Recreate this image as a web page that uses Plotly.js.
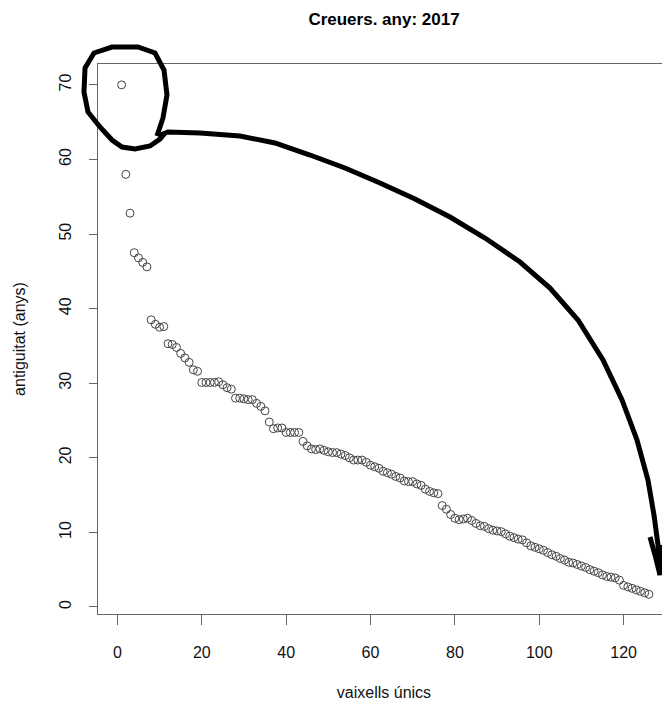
<!DOCTYPE html>
<html>
<head>
<meta charset="utf-8">
<script src="https://cdn.plot.ly/plotly-3.0.1.min.js"></script>
<style>
html,body{margin:0;padding:0;overflow:hidden;background:#fff;}
#chart{width:670px;height:704px;}
</style>
</head>
<body>
<div id="chart"></div>
<script>
// Data (index of ship vs age in years)
const ages = [
  70.0, 58.0, 52.8, 47.5, 46.8, 46.2, 45.6, 38.5, 37.9, 37.5,
  37.6, 35.3, 35.2, 34.8, 34.0, 33.4, 32.8, 31.8, 31.6, 30.1,
  30.1, 30.1, 30.1, 30.2, 29.8, 29.4, 29.2, 28.0, 28.0, 27.9,
  27.8, 27.8, 27.3, 26.9, 26.3, 24.8, 23.9, 24.0, 24.0, 23.4,
  23.4, 23.4, 23.4, 22.2, 21.6, 21.2, 21.1, 21.2, 21.0, 20.8,
  20.7, 20.7, 20.5, 20.3, 20.0, 19.7, 19.7, 19.7, 19.4, 19.0,
  18.8, 18.6, 18.2, 18.0, 17.8, 17.5, 17.3, 16.9, 16.8, 16.8,
  16.5, 16.3, 15.8, 15.5, 15.3, 15.2, 13.6, 13.1, 12.4, 11.9,
  11.7, 11.8, 11.9, 11.6, 11.2, 10.9, 10.8, 10.5, 10.3, 10.2,
  10.1, 9.8, 9.5, 9.3, 9.1, 9.0, 8.6, 8.2, 8.0, 7.8,
  7.6, 7.3, 7.0, 6.8, 6.5, 6.3, 6.0, 5.9, 5.7, 5.5,
  5.3, 5.0, 4.8, 4.6, 4.3, 4.1, 4.0, 3.9, 3.6, 2.9,
  2.7, 2.5, 2.3, 2.1, 1.9, 1.7
];
const shipIndex = ages.map((_, i) => i + 1);
const xTicks = [0, 20, 40, 60, 80, 100, 120];
const yTicks = [0, 10, 20, 30, 40, 50, 60, 70];

const titleText = "Creuers. any: 2017";
const xTitle = "vaixells únics";
const yTitle = "antiguitat (anys)";

// Hand-drawn annotation strokes (pixel positions in the figure)
const W = 670, H = 704, ML = 98, MR = 0, MT = 64, MB = 90;
const PW = W - ML - MR, PH = H - MT - MB;
const circlePx = [[157,136],[163,118],[167,95],[164,70],[155,53],[138,47],[112,47],[94,53],[85,68],[84,92],[88,112],[100,127],[112,140],[122,147],[135,149],[150,146],[160,139],[165,133]];
const arrowPx = [[158,136],[168,132],[200,133],[240,136],[275,143],[310,155],[345,168],[380,183],[415,199],[450,217],[485,238],[520,262],[550,288],[578,320],[603,360],[622,400],[637,440],[648,480],[654,515],[658,545],[660,575]];
const barbPx = [[650,537],[655,555],[660,575],[662,545]];
function toPath(pts){
  return pts.map((p,i)=>(i?'L':'M')+((p[0]-ML)/PW).toFixed(4)+','+((H-MB-p[1])/PH).toFixed(4)).join(' ');
}

const trace = {
  x: shipIndex, y: ages, type: 'scatter', mode: 'markers',
  marker: {symbol: 'circle-open', size: 8, color: '#444', line: {width: 1, color: '#444'}},
  hoverinfo: 'skip'
};

const axisFont = {family: 'Liberation Sans, Arial, sans-serif', size: 16, color: '#111'};
const layout = {
  width: W, height: H,
  margin: {l: ML, r: MR, t: MT, b: MB},
  paper_bgcolor: '#fff', plot_bgcolor: '#fff',
  showlegend: false,
  title: {text: '<b>' + titleText + '</b>', font: {family: 'Liberation Sans, Arial, sans-serif', size: 17, color: '#000'}, x: 384/W, xanchor: 'center', y: 1 - 19/H, yanchor: 'middle'},
  xaxis: {
    range: [-4.6, 131], tickvals: xTicks, ticktext: xTicks.map(String),
    ticks: 'outside', ticklen: 10, tickcolor: '#666', tickwidth: 1,
    showline: true, linecolor: '#666', linewidth: 1, mirror: true,
    showgrid: false, zeroline: false, tickfont: axisFont, ticklabelstandoff: 14,
    title: {text: xTitle, font: axisFont, standoff: 26}
  },
  yaxis: {
    range: [-0.94, 72.8], tickvals: yTicks, ticktext: yTicks.map(String),
    ticks: 'outside', ticklen: 8, tickcolor: '#666', tickwidth: 1,
    showline: true, linecolor: '#666', linewidth: 1, mirror: true,
    showgrid: false, zeroline: false, tickfont: axisFont, tickangle: -90, ticklabelstandoff: 12,
    title: {text: yTitle, font: axisFont, standoff: 26}
  },
  shapes: [
    {type: 'path', xref: 'paper', yref: 'paper', path: toPath(circlePx), line: {color: '#000', width: 5}},
    {type: 'path', xref: 'paper', yref: 'paper', path: toPath(arrowPx), line: {color: '#000', width: 5}},
    {type: 'path', xref: 'paper', yref: 'paper', path: toPath(barbPx), line: {color: '#000', width: 5}}
  ]
};

Plotly.newPlot('chart', [trace], layout, {staticPlot: true, displayModeBar: false});
</script>
</body>
</html>
